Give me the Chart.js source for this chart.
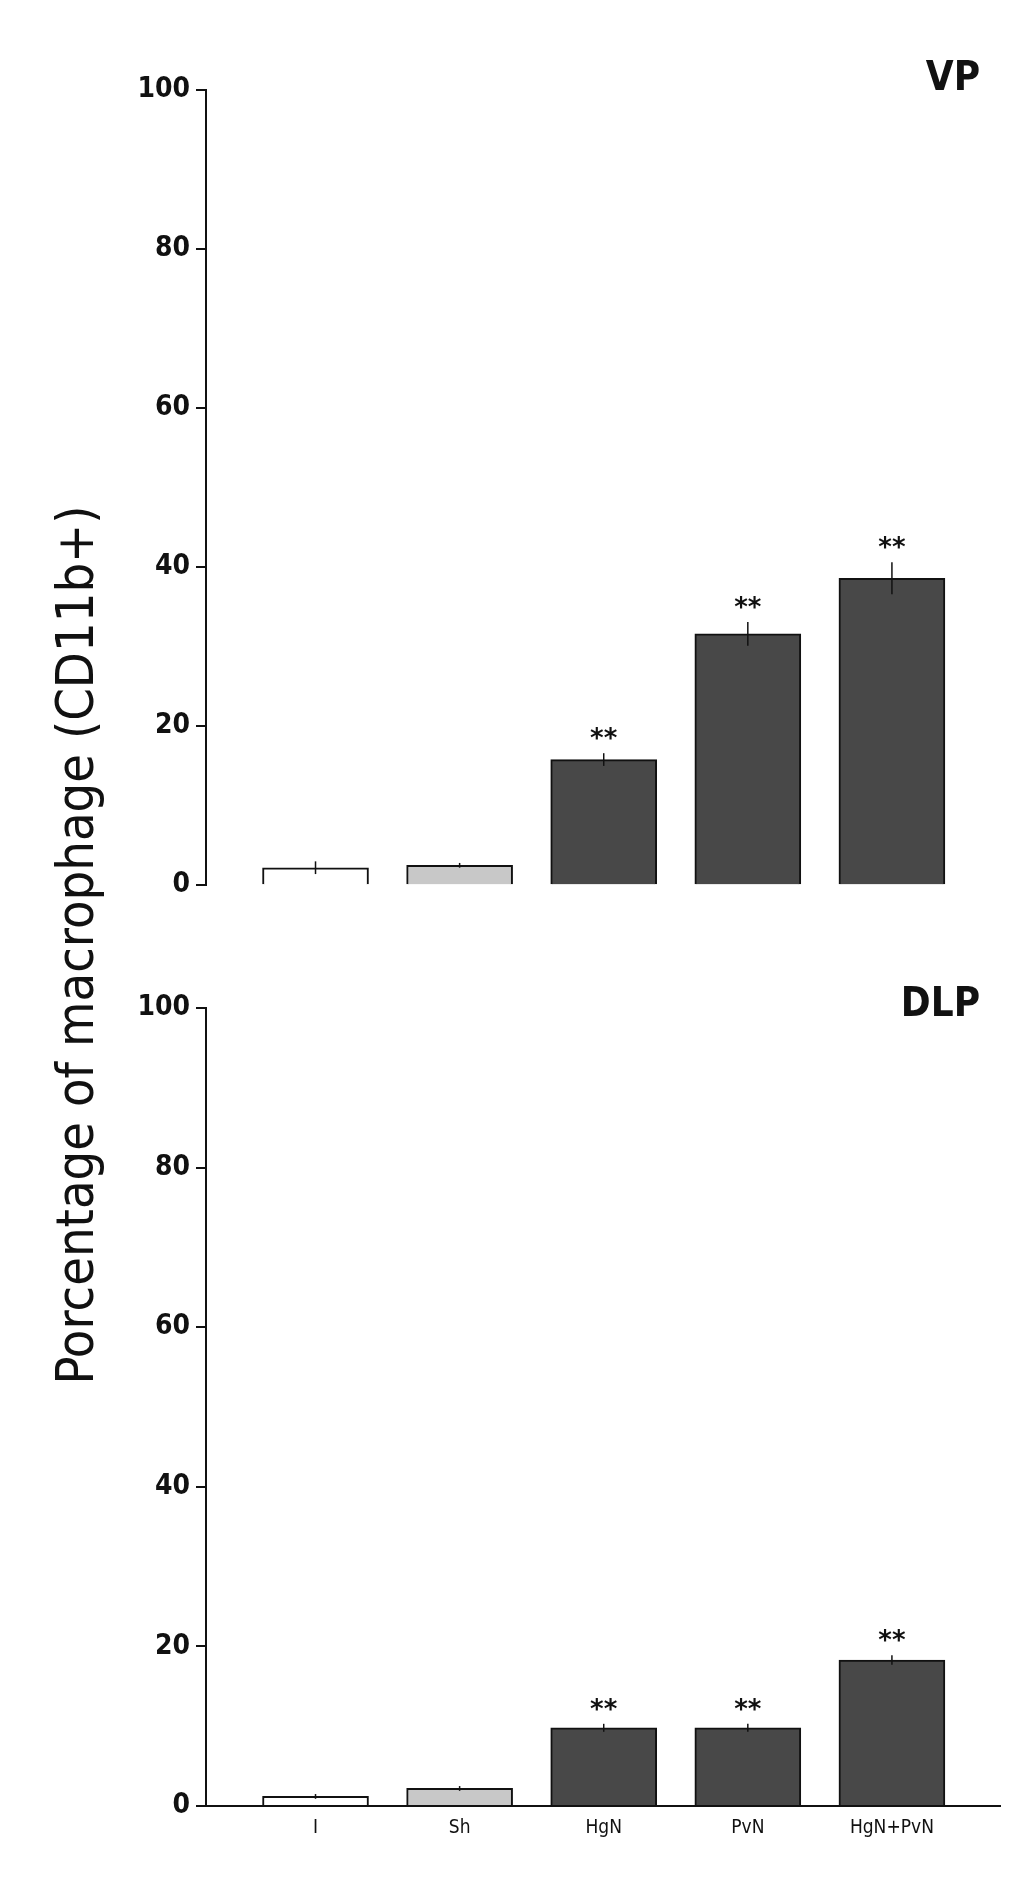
<!DOCTYPE html>
<html lang="en">
<head>
<meta charset="UTF-8">
<title>Macrophage CD11b+</title>
<script src="https://cdn.jsdelivr.net/npm/chart.js"></script>
<style>
    body { margin: 0; background: white; width: 1021px; height: 1893px; position: relative; overflow: hidden; }
    .panel { position: absolute; left: 100px; width: 921px; }
    #yTitle {
        position: absolute; left: 75px; top: 945px;
        transform: translate(-50%, -50%) rotate(-90deg);
        white-space: nowrap;
        font: 52px "Liberation Sans Narrow", "DejaVu Sans Condensed", sans-serif;
        color: #111;
    }
</style>
</head>
<body>
<div id="yTitle">Porcentage of macrophage (CD11b+)</div>
<div class="panel" style="top:60px;height:848px;"><canvas id="vpChart"></canvas></div>
<div class="panel" style="top:978px;height:878px;"><canvas id="dlpChart"></canvas></div>

<script>
    const groups = ['I', 'Sh', 'HgN', 'PvN', 'HgN+PvN'];
    const vpValues = [2.2, 2.5, 15.8, 31.6, 38.6];
    const vpErrors = [0.8, 0.3, 0.8, 1.5, 2.0];
    const dlpValues = [1.2, 2.2, 9.8, 9.8, 18.3];
    const dlpErrors = [0.3, 0.3, 0.5, 0.5, 0.6];
    const stars = ['', '', '**', '**', '**'];
    const yTicks = [0, 20, 40, 60, 80, 100];
    const barColors = ['#ffffff', '#c8c8c8', '#484848', '#484848', '#484848'];

    const tickFont = { family: '"Liberation Sans Narrow", "DejaVu Sans Condensed", sans-serif', size: 28, weight: 'bold' };

    // error bars, significance stars and panel label
    const extras = {
        id: 'extras',
        afterDatasetsDraw(chart, args, opts) {
            const ctx = chart.ctx;
            const x = chart.scales.x, y = chart.scales.y;
            ctx.save();
            ctx.strokeStyle = '#111';
            ctx.lineWidth = 1.5;
            ctx.fillStyle = '#111';
            ctx.textAlign = 'center';
            ctx.font = 'bold 26px "DejaVu Sans", sans-serif';
            opts.values.forEach((v, i) => {
                const px = x.getPixelForValue(i);
                const top = y.getPixelForValue(v + opts.errors[i]);
                ctx.beginPath();
                ctx.moveTo(px, y.getPixelForValue(v - opts.errors[i]));
                ctx.lineTo(px, top);
                ctx.stroke();
                if (stars[i]) ctx.fillText(stars[i], px, top - 6);
            });
            ctx.font = 'bold 40px "Liberation Sans Narrow", "DejaVu Sans Condensed", sans-serif';
            ctx.textAlign = 'right';
            ctx.fillText(opts.label, chart.chartArea.right - 20, opts.labelY);
            ctx.restore();
        }
    };

    function makeChart(id, values, errors, label, labelY, showX) {
        return new Chart(document.getElementById(id), {
            type: 'bar',
            data: {
                datasets: [{
                    data: values.map((v, i) => ({ x: i, y: v })),
                    backgroundColor: barColors,
                    borderColor: '#111',
                    borderWidth: 2,
                    barThickness: 106
                }]
            },
            options: {
                responsive: true,
                maintainAspectRatio: false,
                animation: false,
                layout: { padding: { top: 30, bottom: showX ? 0 : 10, right: 21 } },
                plugins: {
                    legend: { display: false },
                    tooltip: { enabled: false },
                    extras: { values, errors, label, labelY }
                },
                scales: {
                    x: {
                        type: 'linear',
                        offset: false,
                        min: -0.76, max: 4.75,
                        afterBuildTicks: axis => { axis.ticks = groups.map((g, i) => ({ value: i })); },
                        afterFit: axis => { axis.height = showX ? 50 : 0; },
                        grid: { display: false },
                        border: { display: showX, color: '#111', width: 2 },
                        ticks: {
                            display: showX,
                            color: '#111',
                            font: { family: tickFont.family, size: 19 },
                            callback: v => groups[v]
                        }
                    },
                    y: {
                        min: 0, max: 100,
                        afterBuildTicks: axis => { axis.ticks = yTicks.map(v => ({ value: v })); },
                        afterFit: axis => { axis.width = 106; },
                        grid: { drawOnChartArea: false, color: '#111', lineWidth: 2, tickLength: 10 },
                        border: { color: '#111', width: 2 },
                        ticks: { color: '#111', font: tickFont, padding: 6 }
                    }
                }
            },
            plugins: [extras]
        });
    }

    makeChart('vpChart', vpValues, vpErrors, 'VP', 30, false);
    makeChart('dlpChart', dlpValues, dlpErrors, 'DLP', 38, true);
</script>
</body>
</html>
